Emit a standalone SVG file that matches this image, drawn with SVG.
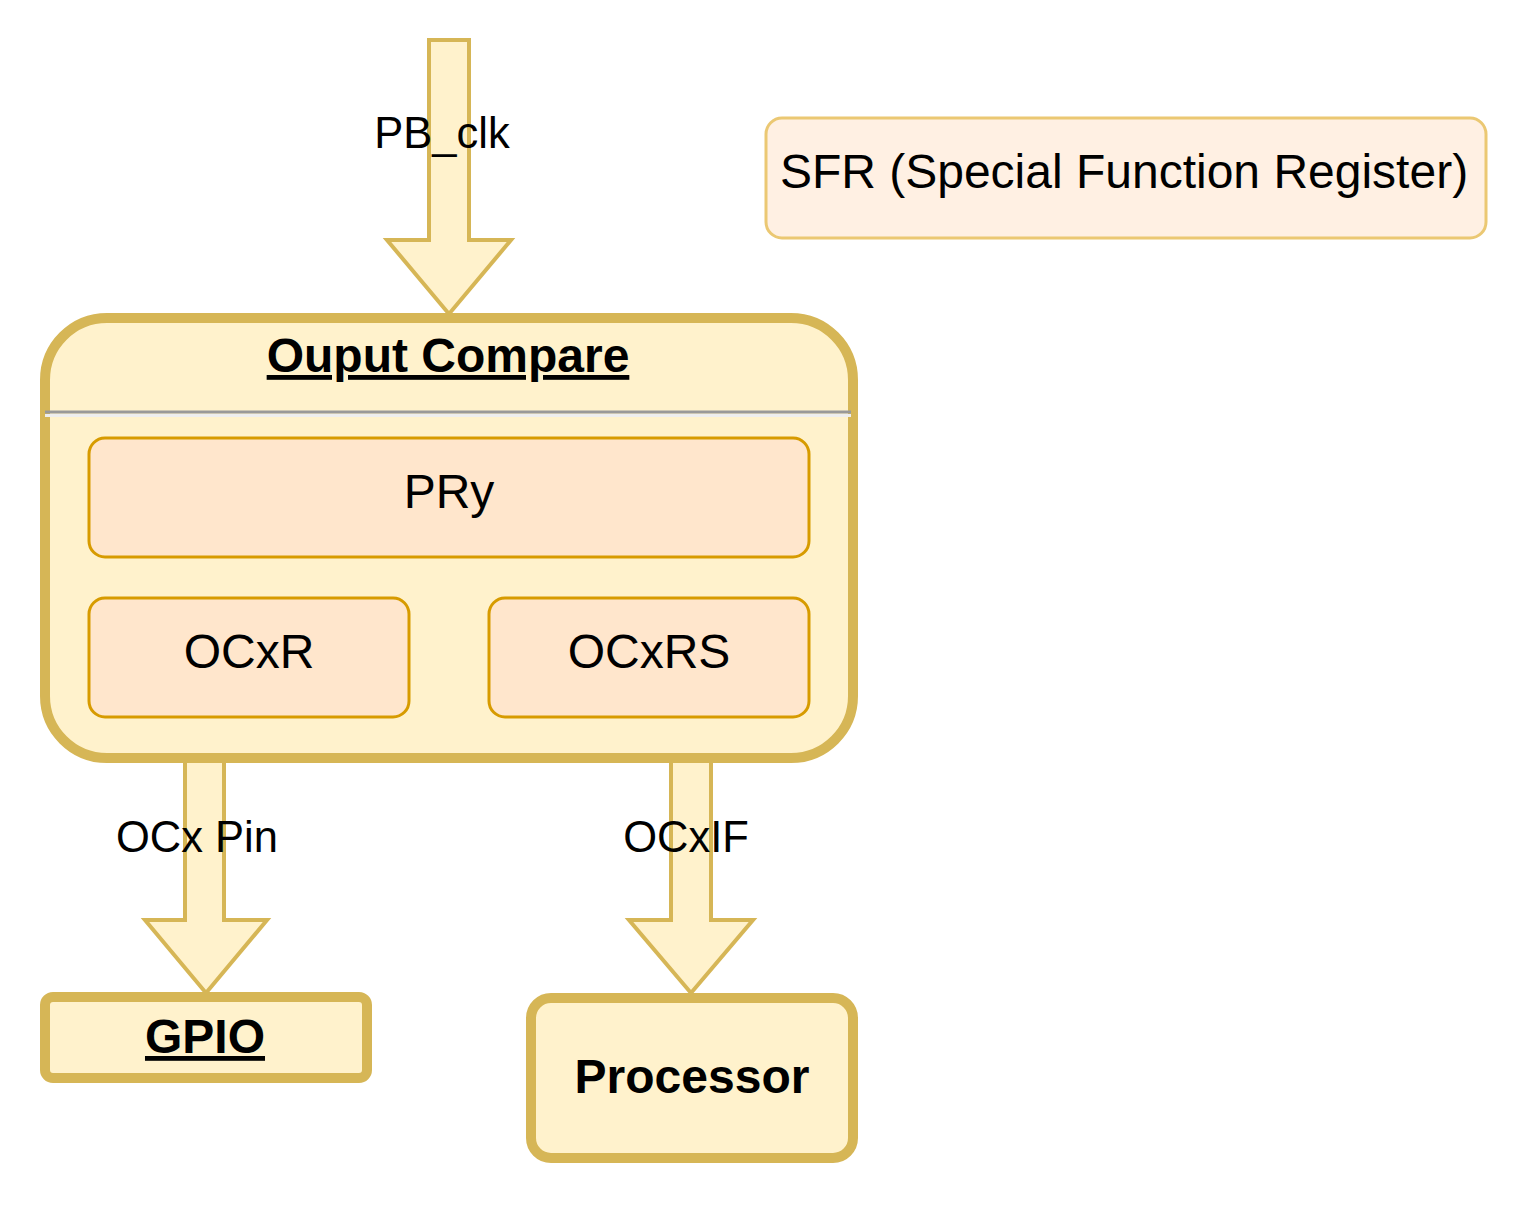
<svg xmlns="http://www.w3.org/2000/svg" width="1532" height="1208" viewBox="0 0 1532 1208">
<style>
.arrow{fill:#fff2cc;stroke:#d6b656;stroke-width:4;stroke-linejoin:miter}
.thick{fill:#fff2cc;stroke:#d6b656;stroke-width:10}
.reg{fill:#ffe6cc;stroke:#d79b00;stroke-width:3}
.t{font-family:"Liberation Sans",Arial,sans-serif;fill:#000;text-anchor:middle}
.lbl{font-size:43.5px}
.big{font-size:48px}
.bold{font-size:48px;font-weight:bold}
</style>
<rect width="1532" height="1208" fill="#ffffff"/>
<g id="connectors">
<path class="arrow" d="M429,40 L469,40 L469,240 L511,240 L449,314 L387,240 L429,240 Z"/>
<path class="arrow" d="M185,760 L224,760 L224,920 L267,920 L206,993 L145,920 L185,920 Z"/>
<path class="arrow" d="M671,760 L711,760 L711,920 L753,920 L691,993 L629,920 L671,920 Z"/>
<text class="t lbl" x="442" y="148">PB_clk</text>
<text class="t lbl" x="197" y="852">OCx Pin</text>
<text class="t lbl" x="686" y="852">OCxIF</text>
</g>
<g id="sfr">
<rect x="766" y="118" width="720" height="120" rx="16" fill="#fff0e3" stroke="#ebc873" stroke-width="3"/>
<text class="t big" x="1124" y="188">SFR (Special Function Register)</text>
</g>
<g id="output-compare">
<rect class="thick" x="45" y="318" width="808" height="440" rx="62"/>
<line x1="45" y1="412" x2="851" y2="412" stroke="#999999" stroke-width="3"/>
<line x1="45" y1="415.5" x2="851" y2="415.5" stroke="#eeeeee" stroke-width="3"/>
<text class="t bold" x="448" y="372" text-decoration="underline">Ouput Compare</text>
</g>
<g id="pry">
<rect class="reg" x="89" y="438" width="720" height="119" rx="16"/>
<text class="t big" x="449" y="508">PRy</text>
</g>
<g id="ocxr">
<rect class="reg" x="89" y="598" width="320" height="119" rx="16"/>
<text class="t big" x="249" y="668">OCxR</text>
</g>
<g id="ocxrs">
<rect class="reg" x="489" y="598" width="320" height="119" rx="16"/>
<text class="t big" x="649" y="668">OCxRS</text>
</g>
<g id="gpio">
<rect class="thick" x="45" y="997" width="322" height="81" rx="8"/>
<text class="t bold" x="205" y="1053" text-decoration="underline">GPIO</text>
</g>
<g id="processor">
<rect class="thick" x="531" y="998" width="322" height="160" rx="20"/>
<text class="t bold" x="692" y="1093">Processor</text>
</g>
</svg>
